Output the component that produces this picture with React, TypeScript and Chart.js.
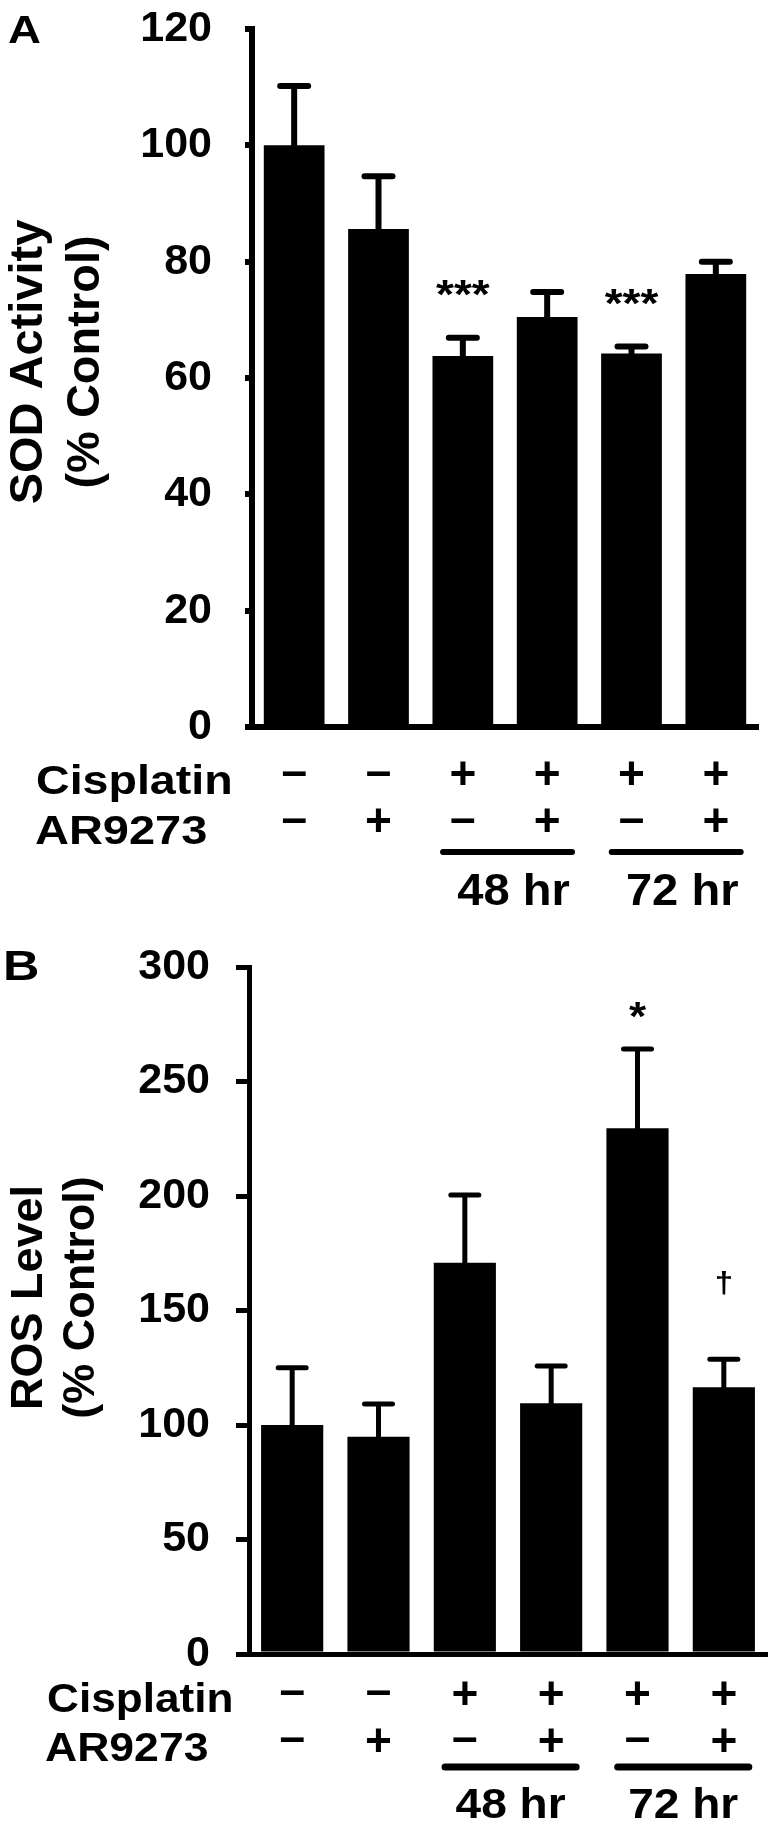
import React, { useEffect, useRef } from 'react';
import { Chart, registerables } from 'chart.js';

Chart.register(...registerables);

// ---------------- data ----------------
const categories = [
  'Control',
  'AR9273',
  'Cisplatin 48 hr',
  'Cisplatin + AR9273 48 hr',
  'Cisplatin 72 hr',
  'Cisplatin + AR9273 72 hr',
];
const cisplatinSigns = ['–', '–', '+', '+', '+', '+'];
const ar9273Signs = ['–', '+', '–', '+', '–', '+'];
const rowLabels = ['Cisplatin', 'AR9273'];
const timeGroups = [
  { label: '48 hr', from: 2, to: 3 },
  { label: '72 hr', from: 4, to: 5 },
];

const sodValues = [100, 85.6, 63.8, 70.5, 64.2, 77.9];
const sodErrors = [10.2, 9.1, 3.1, 4.3, 1.2, 2.1];
const sodMarks = ['', '', '***', '', '***', ''];
const sodTicks = [0, 20, 40, 60, 80, 100, 120];

const rosValues = [100, 94.9, 170.9, 109.5, 229.6, 116.5];
const rosErrors = [25, 14.3, 29.5, 16.3, 34.6, 12.2];
const rosMarks = ['', '', '', '', '*', '†'];
const rosTicks = [0, 50, 100, 150, 200, 250, 300];

// ---------------- styles ----------------
const FONT = '"Liberation Sans", Arial, Helvetica, sans-serif';
const W = 775;

type MarkStyle = { size: number; gap: number; sx: number };
type PanelStyle = {
  height: number;
  area: { left: number; right: number; top: number; bottom: number };
  letter: string; letterX: number; letterY: number; letterSize: number; letterSx: number;
  titleLines: string[]; titleSize: number; titleXs: number[]; titleShift: number;
  axisWidth: number; tickLength: number; tickPadding: number; tickSize: number;
  errWidth: number; capHalf: number;
  rowX: number[]; rowDy: number[]; rowSx: number[]; rowSize: number;
  signDy: number[]; signSize: number;
  lineDy: number; lineWidth: number; lineStart: number; lineEnd: number;
  hourDy: number; hourSize: number; hourSx: number; hourShift: number;
  marks: Record<string, MarkStyle>;
};

const panelA: PanelStyle = {
  height: 912,
  area: { left: 252, right: 758, top: 29, bottom: 727 },
  letter: 'A', letterX: 8, letterY: 43, letterSize: 38, letterSx: 1.2,
  titleLines: ['SOD Activity', '(% Control)'], titleSize: 47, titleXs: [42, 99], titleShift: -16,
  axisWidth: 6, tickLength: 7, tickPadding: 33, tickSize: 43,
  errWidth: 6, capHalf: 14,
  rowX: [36, 35], rowDy: [67, 117], rowSx: [1.15, 1.16], rowSize: 40.5,
  signDy: [46, 93], signSize: 46,
  lineDy: 125, lineWidth: 6, lineStart: 0.27, lineEnd: 0.33,
  hourDy: 178, hourSize: 44, hourSx: 1.07, hourShift: 6,
  marks: { '***': { size: 40, gap: 50, sx: 1.15 } },
};

const panelB: PanelStyle = {
  height: 912,
  area: { left: 249, right: 767, top: 55, bottom: 742 },
  letter: 'B', letterX: 3, letterY: 68, letterSize: 42, letterSx: 1.2,
  titleLines: ['ROS Level', '(% Control)'], titleSize: 45, titleXs: [42, 94], titleShift: -13,
  axisWidth: 5, tickLength: 13, tickPadding: 26, tickSize: 43,
  errWidth: 5, capHalf: 14,
  rowX: [47, 45], rowDy: [58, 107], rowSx: [1.09, 1.1], rowSize: 40.5,
  signDy: [38.5, 85.5], signSize: 46,
  lineDy: 113, lineWidth: 7, lineStart: 0.27, lineEnd: 0.33,
  hourDy: 164, hourSize: 43, hourSx: 1.07, hourShift: 0,
  marks: {
    '*': { size: 40, gap: 39, sx: 1.1 },
    '†': { size: 30, gap: 76, sx: 1.1 },
  },
};

function drawText(
  ctx: CanvasRenderingContext2D,
  s: string,
  x: number,
  y: number,
  size: number,
  opts: { align?: CanvasTextAlign; sx?: number; middle?: boolean; rotate?: boolean } = {}
) {
  ctx.save();
  ctx.font = `bold ${size}px ${FONT}`;
  ctx.fillStyle = '#000';
  ctx.textAlign = opts.align ?? 'left';
  ctx.textBaseline = 'alphabetic';
  ctx.translate(x, y);
  if (opts.rotate) ctx.rotate(-Math.PI / 2);
  ctx.scale(opts.sx ?? 1, 1);
  let dy = 0;
  if (opts.middle) {
    const m = ctx.measureText(s);
    dy = (m.actualBoundingBoxAscent - m.actualBoundingBoxDescent) / 2;
  }
  ctx.fillText(s, 0, dy);
  ctx.restore();
}

type PanelProps = {
  cfg: PanelStyle;
  values: number[];
  errors: number[];
  marks: string[];
  ticks: number[];
  top: number;
};

function Panel({ cfg, values, errors, marks, ticks, top }: PanelProps) {
  const ref = useRef<HTMLCanvasElement>(null);

  useEffect(() => {
    if (!ref.current) return;

    const errorBars = {
      id: 'errorBars',
      afterDatasetsDraw(chart: any) {
        const { ctx } = chart;
        const ys = chart.scales.y;
        const meta = chart.getDatasetMeta(0);
        meta.data.forEach((bar: any, i: number) => {
          const x = bar.x;
          const yb = bar.y;
          const yt = ys.getPixelForValue(values[i] + errors[i]);
          ctx.save();
          ctx.strokeStyle = '#000';
          ctx.lineWidth = cfg.errWidth;
          ctx.lineCap = 'butt';
          ctx.beginPath();
          ctx.moveTo(x, yb + 1);
          ctx.lineTo(x, yt);
          ctx.stroke();
          ctx.lineCap = 'round';
          ctx.beginPath();
          ctx.moveTo(x - cfg.capHalf, yt);
          ctx.lineTo(x + cfg.capHalf, yt);
          ctx.stroke();
          ctx.restore();
        });
      },
    };

    const annotations = {
      id: 'annotations',
      afterDraw(chart: any) {
        const { ctx, chartArea } = chart;
        const xs = chart.scales.x;
        const ys = chart.scales.y;
        const pitch = xs.getPixelForValue(1) - xs.getPixelForValue(0);
        const bottom = chartArea.bottom;

        drawText(ctx, cfg.letter, cfg.letterX, cfg.letterY, cfg.letterSize, { sx: cfg.letterSx });

        const cy = (chartArea.top + chartArea.bottom) / 2 + cfg.titleShift;
        cfg.titleLines.forEach((t, k) =>
          drawText(ctx, t, cfg.titleXs[k], cy, cfg.titleSize, { align: 'center', rotate: true })
        );

        marks.forEach((m, i) => {
          if (!m) return;
          const st = cfg.marks[m];
          const x = xs.getPixelForValue(i);
          const y = ys.getPixelForValue(values[i] + errors[i]) - st.gap;
          drawText(ctx, m, x, y, st.size, { align: 'center', middle: true, sx: st.sx });
        });

        rowLabels.forEach((lab, r) =>
          drawText(ctx, lab, cfg.rowX[r], bottom + cfg.rowDy[r], cfg.rowSize, { sx: cfg.rowSx[r] })
        );
        [cisplatinSigns, ar9273Signs].forEach((signs, r) =>
          signs.forEach((s, i) =>
            drawText(ctx, s, xs.getPixelForValue(i), bottom + cfg.signDy[r], cfg.signSize, {
              align: 'center',
              middle: true,
            })
          )
        );

        timeGroups.forEach((g) => {
          const x1 = xs.getPixelForValue(g.from) - cfg.lineStart * pitch;
          const x2 = xs.getPixelForValue(g.to) + cfg.lineEnd * pitch;
          const y = bottom + cfg.lineDy;
          ctx.save();
          ctx.strokeStyle = '#000';
          ctx.lineWidth = cfg.lineWidth;
          ctx.lineCap = 'round';
          ctx.beginPath();
          ctx.moveTo(x1 + cfg.lineWidth / 2, y);
          ctx.lineTo(x2 - cfg.lineWidth / 2, y);
          ctx.stroke();
          ctx.restore();
          drawText(ctx, g.label, (x1 + x2) / 2 + cfg.hourShift, bottom + cfg.hourDy, cfg.hourSize, {
            align: 'center',
            sx: cfg.hourSx,
          });
        });
      },
    };

    const chart = new Chart(ref.current, {
      type: 'bar',
      data: {
        labels: categories,
        datasets: [
          {
            data: values,
            backgroundColor: '#000',
            borderWidth: 0,
            categoryPercentage: 1.0,
            barPercentage: 0.72,
          },
        ],
      },
      options: {
        responsive: false,
        animation: false,
        devicePixelRatio: 1,
        layout: {
          padding: { left: 0, top: cfg.area.top, right: W - cfg.area.right, bottom: 0 },
        },
        plugins: {
          legend: { display: false },
          tooltip: { enabled: false },
        },
        scales: {
          x: {
            type: 'category',
            grid: { display: false },
            ticks: { display: false },
            border: { display: true, color: '#000', width: cfg.axisWidth },
            afterFit: (s: any) => {
              s.height = cfg.height - cfg.area.bottom;
              s.paddingLeft = 0;
              s.paddingRight = 0;
            },
          },
          y: {
            type: 'linear',
            min: ticks[0],
            max: ticks[ticks.length - 1],
            ticks: {
              stepSize: ticks[1] - ticks[0],
              color: '#000',
              padding: cfg.tickPadding,
              font: { family: FONT, size: cfg.tickSize, weight: 'bold' },
            },
            grid: {
              display: true,
              drawOnChartArea: false,
              drawTicks: true,
              tickLength: cfg.tickLength,
              lineWidth: cfg.axisWidth,
              color: '#000',
            },
            border: { display: true, color: '#000', width: cfg.axisWidth },
            afterFit: (s: any) => {
              s.width = cfg.area.left;
              s.paddingTop = 0;
              s.paddingBottom = 0;
            },
          },
        },
      },
      plugins: [errorBars, annotations],
    } as any);

    return () => chart.destroy();
  }, []);

  return (
    <canvas
      ref={ref}
      width={W}
      height={cfg.height}
      style={{ position: 'absolute', left: 0, top, width: W, height: cfg.height, display: 'block' }}
    />
  );
}

export default function App() {
  return (
    <div
      style={{
        position: 'absolute',
        left: 0,
        top: 0,
        width: W,
        height: 1824,
        background: '#fff',
        overflow: 'hidden',
      }}
    >
      <Panel cfg={panelA} values={sodValues} errors={sodErrors} marks={sodMarks} ticks={sodTicks} top={0} />
      <Panel cfg={panelB} values={rosValues} errors={rosErrors} marks={rosMarks} ticks={rosTicks} top={912} />
    </div>
  );
}
